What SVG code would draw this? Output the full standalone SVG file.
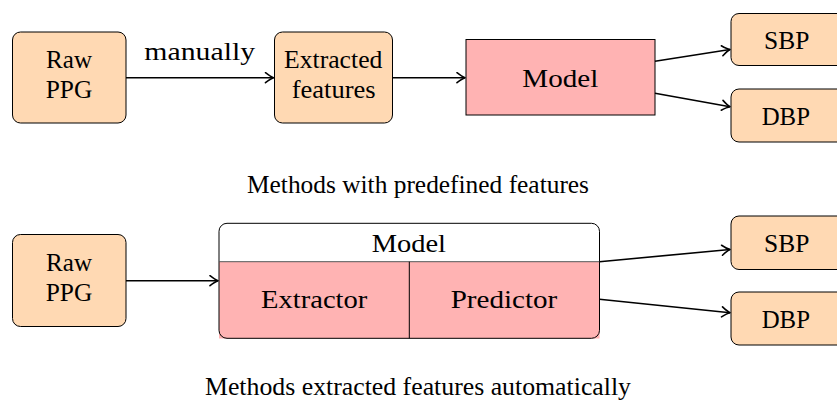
<svg xmlns="http://www.w3.org/2000/svg" width="837" height="405" viewBox="0 0 837 405">
<style>
text{font-family:"Liberation Serif","DejaVu Serif",serif;font-size:25px;fill:#000;text-anchor:middle}
.io{fill:#FFD9B3;stroke:#000;stroke-width:1}
.mdl{fill:#FFB3B3;stroke:#000;stroke-width:1}
.c{fill:none;stroke:#000;stroke-width:1.6}
</style>
<defs>
<marker id="ah" viewBox="-10 -6 12 12" refX="0" refY="0" markerWidth="12" markerHeight="12" markerUnits="userSpaceOnUse" orient="auto">
<path d="M-8,-5 Q-3,-1 0,0 Q-3,1 -8,5" fill="none" stroke="#000" stroke-width="1.6" stroke-linecap="round" stroke-linejoin="round"/>
</marker>
</defs>
<g id="raw1"><rect class="io" x="12.5" y="32" width="113.5" height="91" rx="8"/><text x="69" y="68" textLength="46" lengthAdjust="spacingAndGlyphs">Raw</text><text x="69" y="98" textLength="46.6" lengthAdjust="spacingAndGlyphs">PPG</text></g>
<g id="feat"><rect class="io" x="274.5" y="32" width="118" height="91" rx="8"/><text x="333.2" y="68" textLength="98.3" lengthAdjust="spacingAndGlyphs">Extracted</text><text x="333.7" y="98" textLength="84" lengthAdjust="spacingAndGlyphs">features</text></g>
<g id="model1"><rect class="mdl" x="466" y="39.5" width="189" height="75.5"/><text x="560.3" y="87" textLength="76" lengthAdjust="spacingAndGlyphs">Model</text></g>
<g id="sbp1"><rect class="io" x="731" y="13.5" width="120" height="52" rx="8"/><text x="786.7" y="49" textLength="45.3" lengthAdjust="spacingAndGlyphs">SBP</text></g>
<g id="dbp1"><rect class="io" x="731" y="89" width="120" height="53" rx="8"/><text x="785.8" y="125" textLength="48.3" lengthAdjust="spacingAndGlyphs">DBP</text></g>
<g id="raw2"><rect class="io" x="12.5" y="234.5" width="113.5" height="92" rx="8"/><text x="69" y="271" textLength="46" lengthAdjust="spacingAndGlyphs">Raw</text><text x="69" y="301" textLength="46.6" lengthAdjust="spacingAndGlyphs">PPG</text></g>
<g id="model2">
<rect x="219" y="261.7" width="380.5" height="76.8" fill="#FFB3B3"/>
<path d="M219,261.7 V231.3 a8,8 0 0 1 8,-8 H591.5 a8,8 0 0 1 8,8 V261.7 Z" fill="#fff"/>
<rect x="219" y="223.3" width="380.5" height="115" rx="8" fill="none" stroke="#000" stroke-width="1"/>
<line x1="219" y1="261.7" x2="599.5" y2="261.7" stroke="#555" stroke-width="1"/>
<line x1="409.3" y1="261.7" x2="409.3" y2="338.3" stroke="#000" stroke-width="1"/>
<text x="408.8" y="252" textLength="74.3" lengthAdjust="spacingAndGlyphs">Model</text>
<text x="314.2" y="308" textLength="106.3" lengthAdjust="spacingAndGlyphs">Extractor</text>
<text x="504" y="308" textLength="106.6" lengthAdjust="spacingAndGlyphs">Predictor</text>
</g>
<g id="sbp2"><rect class="io" x="731" y="216" width="120" height="53.5" rx="8"/><text x="786.7" y="252" textLength="45.3" lengthAdjust="spacingAndGlyphs">SBP</text></g>
<g id="dbp2"><rect class="io" x="731" y="292" width="120" height="53" rx="8"/><text x="785.8" y="328" textLength="48.3" lengthAdjust="spacingAndGlyphs">DBP</text></g>
<g id="connectors">
<line class="c" x1="126" y1="77.7" x2="273.5" y2="77.7" marker-end="url(#ah)"/>
<text x="199.7" y="60" textLength="110.7" lengthAdjust="spacingAndGlyphs">manually</text>
<line class="c" x1="392.5" y1="77.7" x2="465" y2="77.7" marker-end="url(#ah)"/>
<line class="c" x1="655" y1="61.3" x2="730" y2="49.5" marker-end="url(#ah)"/>
<line class="c" x1="655" y1="93.3" x2="730" y2="106.7" marker-end="url(#ah)"/>
<line class="c" x1="126" y1="280.7" x2="218" y2="280.7" marker-end="url(#ah)"/>
<line class="c" x1="599.5" y1="261.7" x2="730" y2="249.5" marker-end="url(#ah)"/>
<line class="c" x1="599.5" y1="299.3" x2="730" y2="312.7" marker-end="url(#ah)"/>
</g>
<text x="418" y="193" textLength="342" lengthAdjust="spacingAndGlyphs">Methods with predefined features</text>
<text x="418" y="395" textLength="426" lengthAdjust="spacingAndGlyphs">Methods extracted features automatically</text>
</svg>
